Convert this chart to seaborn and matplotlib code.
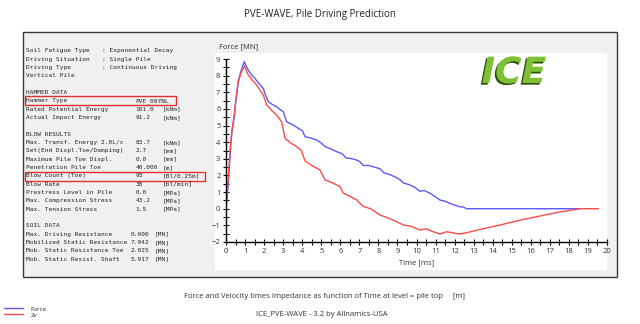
import matplotlib
matplotlib.use("Agg")
import matplotlib.pyplot as plt
import matplotlib.patheffects as pe
from matplotlib.patches import Rectangle
from matplotlib.ticker import MultipleLocator
import seaborn as sns

# Force at pile top [MN]
force_t = [0.0, 0.15, 0.25, 0.32, 0.44, 0.53, 0.65, 0.82, 0.96, 1.05, 1.17, 1.35, 1.52, 1.75,
           1.96, 2.04, 2.22, 2.45, 2.66, 2.85, 3.01, 3.18, 3.5, 3.8, 4.0, 4.15, 4.45, 4.76,
           5.0, 5.2, 5.5, 5.81, 6.1, 6.3, 6.51, 6.8, 7.0, 7.21, 7.5, 7.8, 8.08, 8.3, 8.6,
           8.9, 9.13, 9.31, 9.6, 9.9, 10.18, 10.4, 10.71, 10.95, 11.23, 11.5, 11.8, 12.05,
           12.28, 12.45, 12.63, 18.58]
force = [0.0, 2.0, 3.8, 4.7, 5.6, 6.6, 7.7, 8.4, 8.84, 8.6, 8.33, 8.05, 7.83, 7.5,
         7.23, 6.93, 6.43, 6.25, 6.13, 5.95, 5.83, 5.23, 5.05, 4.83, 4.7, 4.33, 4.25, 4.13,
         3.95, 3.73, 3.6, 3.43, 3.3, 3.05, 3.03, 2.95, 2.85, 2.6, 2.6, 2.5, 2.4, 2.15, 2.05,
         1.9, 1.75, 1.55, 1.45, 1.3, 1.05, 1.1, 0.93, 0.75, 0.52, 0.45, 0.3, 0.2,
         0.12, 0.1, 0.0, 0.0]

# Velocity times impedance [MN]
zv_t = [0.0, 0.1, 0.22, 0.3, 0.43, 0.52, 0.64, 0.8, 0.96, 1.17, 1.4, 1.61, 1.96, 2.14,
        2.4, 2.66, 2.92, 3.1, 3.4, 3.71, 3.95, 4.15, 4.5, 4.93, 5.2, 5.6, 5.98, 6.16,
        6.5, 6.86, 7.21, 7.6, 8.08, 8.5, 8.96, 9.31, 9.7, 10.18, 10.5, 10.8, 11.23, 11.58,
        11.9, 12.23, 12.63, 13.5, 14.38, 15.4, 16.48, 17.5, 18.58, 19.55]
zv = [0.0, 1.5, 3.6, 4.6, 5.6, 6.6, 7.6, 8.2, 8.58, 8.03, 7.7, 7.43, 6.83, 6.23,
      5.9, 5.63, 5.23, 4.23, 3.95, 3.73, 3.5, 2.88, 2.6, 2.33, 1.73, 1.55, 1.33, 0.93,
      0.75, 0.53, 0.13, 0.0, -0.38, -0.55, -0.78, -0.98, -1.05, -1.28, -1.2, -1.35, -1.52, -1.38,
      -1.45, -1.52, -1.44, -1.2, -0.98, -0.7, -0.44, -0.2, 0.0, 0.0]

header_labels = ["Soil Fatigue Type", "Driving Situation", "Driving Type"]
header_values = ["Exponential Decay", "Single Pile", "Continuous Driving"]

hammer_labels = ["Hammer Type", "Rated Potential Energy", "Actual Impact Energy"]
hammer_values = ["PVE_007NL", "101.0", "91.2"]
hammer_units = ["", "[kNm]", "[kNm]"]

blow_labels = ["Max. Transf. Energy 2.0L/c", "Set(End Displ.Toe/Damping)", "Maximum Pile Toe Displ.",
               "Penetration Pile Toe", "Blow Count (Toe)", "Blow Rate", "Prestress Level in Pile",
               "Max. Compression Stress", "Max. Tension Stress"]
blow_values = ["83.7", "2.7", "0.0", "40.000", "93", "38", "0.0", "43.2", "1.5"]
blow_units = ["[kNm]", "[mm]", "[mm]", "[m]", "[Bl/0.25m]", "[bl/min]", "[MPa]", "[MPa]", "[MPa]"]

soil_labels = ["Max. Driving Resistance", "Mobilized Static Resistance",
               "Mob. Static Resistance Toe", "Mob. Static Resist. Shaft"]
soil_values = ["0.000", "7.942", "2.025", "5.917"]
soil_units = ["[MN]", "[MN]", "[MN]", "[MN]"]

W, H = 640, 324
sns.set_style("white")
plt.rcParams['font.family'] = ['Open Sans', 'DejaVu Sans']
fig = plt.figure(figsize=(6.4, 3.24), dpi=100)


def fx(px):
    return px / W


def fy(py):
    return 1 - py / H


# grey frame and white plot panel
fig.patches.append(Rectangle((fx(23), fy(277)), fx(617 - 23), (277 - 32) / H, transform=fig.transFigure,
                             facecolor="#f0f0f0", edgecolor="#3a3a3a", lw=1.0, zorder=-3))
fig.patches.append(Rectangle((fx(215), fy(270)), fx(607 - 215), (270 - 53) / H, transform=fig.transFigure,
                             facecolor="white", edgecolor="none", zorder=-2))

fig.text(0.5, fy(14), "PVE-WAVE, Pile Driving Prediction", ha="center", va="center", fontsize=7, color="#222222")

# text panel
mono = dict(family="DejaVu Sans Mono", fontsize=4.45, color="#222222", va="center")
step = 8.33
y0 = 50.8
x_lab = 26
for i, (lab, val) in enumerate(zip(header_labels, header_values)):
    fig.text(fx(x_lab), fy(y0 + i * step), lab, **mono)
    fig.text(fx(101.5), fy(y0 + i * step), ": " + val, **mono)
fig.text(fx(x_lab), fy(y0 + 3 * step), "Vertical Pile", **mono)

fig.text(fx(x_lab), fy(y0 + 5 * step), "HAMMER DATA", **mono)
for i, (lab, val, un) in enumerate(zip(hammer_labels, hammer_values, hammer_units)):
    yy = fy(y0 + (6 + i) * step)
    fig.text(fx(x_lab), yy, lab, **mono)
    fig.text(fx(135.7), yy, val, **mono)
    fig.text(fx(163), yy, un, **mono)

fig.text(fx(x_lab), fy(y0 + 10 * step), "BLOW RESULTS", **mono)
for i, (lab, val, un) in enumerate(zip(blow_labels, blow_values, blow_units)):
    yy = fy(y0 + (11 + i) * step)
    fig.text(fx(x_lab), yy, lab, **mono)
    fig.text(fx(135.7), yy, val, **mono)
    fig.text(fx(163), yy, un, **mono)

fig.text(fx(x_lab), fy(y0 + 21 * step), "SOIL DATA", **mono)
for i, (lab, val, un) in enumerate(zip(soil_labels, soil_values, soil_units)):
    yy = fy(y0 + (22 + i) * step)
    fig.text(fx(x_lab), yy, lab, **mono)
    fig.text(fx(131), yy, val, **mono)
    fig.text(fx(155), yy, un, **mono)

# highlight boxes
for (x0, y_top, x1, y_bot) in [(25, 96, 176, 104.5), (25, 171.5, 205, 180.5)]:
    fig.patches.append(Rectangle((fx(x0), fy(y_bot)), fx(x1 - x0), (y_bot - y_top) / H,
                                 transform=fig.transFigure, facecolor="none", edgecolor="#e03030", lw=1.0, zorder=3))

# chart
ax = fig.add_axes([fx(226), fy(242), fx(607 - 226), (242 - 59) / H])
ax.set_zorder(1)
ax.set_facecolor("white")
sns.lineplot(x=force_t, y=force, ax=ax, color="#5a5aff", lw=1.0, estimator=None, sort=False, label="Force")
sns.lineplot(x=zv_t, y=zv, ax=ax, color="#ff4a4a", lw=1.0, estimator=None, sort=False, label="2v")
ax.set_xlim(0, 20)
ax.set_ylim(-2, 9)
ax.xaxis.set_major_locator(MultipleLocator(1))
ax.xaxis.set_minor_locator(MultipleLocator(0.5))
ax.yaxis.set_major_locator(MultipleLocator(1))
ax.yaxis.set_minor_locator(MultipleLocator(0.5))
ax.tick_params(which="both", direction="inout", length=4, width=0.8, color="black",
               labelsize=5.5, labelcolor="#333333", pad=2, bottom=True, left=True)
for s in ["top", "right"]:
    ax.spines[s].set_visible(False)
for s in ["left", "bottom"]:
    ax.spines[s].set_color("black")
    ax.spines[s].set_linewidth(1.0)
handles, labels = ax.get_legend_handles_labels()
ax.get_legend().remove()
ax.set_xlabel("")
ax.set_ylabel("")

fig.text(fx(219), fy(47), "Force [MN]", fontsize=5.5, color="#333333", va="center")
fig.text(fx(417), fy(263), "Time [ms]", fontsize=5.5, color="#333333", va="center", ha="center")

# ICE logo
fig.text(fx(514), fy(73), "ICE", fontsize=26, fontweight="heavy", style="italic", color="#7cc234",
         ha="center", va="center", family="DejaVu Sans", zorder=2,
         path_effects=[pe.SimplePatchShadow(offset=(-1.2, -1.2), shadow_rgbFace="#2f4f10", alpha=1.0),
                       pe.Normal()])

fig.text(fx(324), fy(296), "Force and Velocity times Impedance as function of Time at level = pile top     [m]",
         ha="center", va="center", fontsize=5.5, color="#333333")
fig.text(fx(322), fy(314), "ICE_PVE-WAVE - 3.2 by Allnamics-USA", ha="center", va="center",
         fontsize=5.5, color="#333333")

fig.legend(handles, labels, loc="lower left", bbox_to_anchor=(fx(0), fy(322)), frameon=False,
           fontsize=4.5, handlelength=3.0, handletextpad=1.2, labelspacing=0.1, borderpad=0.2)

fig.savefig("out.png", dpi=100)
